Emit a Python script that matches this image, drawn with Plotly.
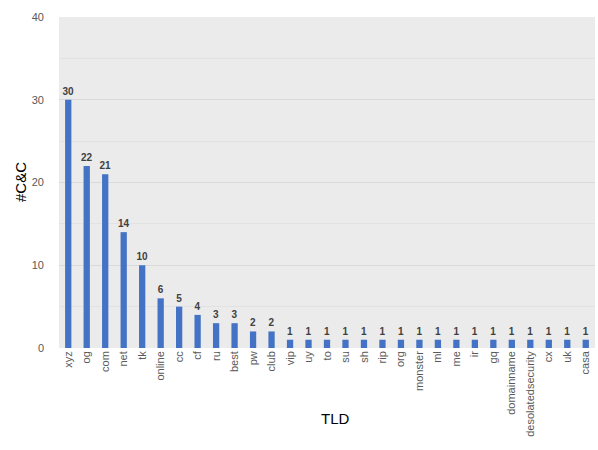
import plotly.graph_objects as go

tlds = ["xyz", "og", "com", "net", "tk", "online", "cc", "cf", "ru", "best", "pw", "club",
        "vip", "uy", "to", "su", "sh", "rip", "org", "monster", "ml", "me", "ir", "gq",
        "domainname", "desolatedsecurity", "cx", "uk", "casa"]
counts = [30, 22, 21, 14, 10, 6, 5, 4, 3, 3, 2, 2,
          1, 1, 1, 1, 1, 1, 1, 1, 1, 1, 1, 1, 1, 1, 1, 1, 1]

fig = go.Figure(go.Bar(
    x=tlds, y=counts,
    marker=dict(color="#4472c4", line=dict(width=0)),
    text=[str(c) for c in counts], textposition="outside",
    constraintext="none",
    textfont=dict(family="Liberation Sans, Arial", size=10, color="#404040"),
    texttemplate="<b>%{text}</b>", cliponaxis=False,
))

plot_w = 598 - 59 - 3
plot_h = 450 - 17 - 102

fig.update_layout(
    width=598, height=450,
    margin=dict(l=59, r=3, t=17, b=102),
    paper_bgcolor="white", plot_bgcolor="#ebebeb",
    bargap=0.66, showlegend=False,
    font=dict(family="Liberation Sans, Arial", color="#595959"),
    xaxis=dict(tickangle=-90, tickfont=dict(size=11, color="#595959"),
               showgrid=False, automargin=False, ticks="", showline=False,
               ticklen=0),
    yaxis=dict(range=[0, 40], dtick=10, tickfont=dict(size=11, color="#595959"),
               gridcolor="#d9d9d9", gridwidth=1, zeroline=False, automargin=False,
               minor=dict(dtick=5, showgrid=True, gridcolor="#e2e2e2", gridwidth=1),
               ticklabelstandoff=14),
    annotations=[
        dict(text="TLD", x=(335 - 59) / plot_w, xref="paper",
             y=(348 - 418) / plot_h, yref="paper", showarrow=False,
             xanchor="center", yanchor="middle",
             font=dict(size=15, color="black")),
        dict(text="#C&C", x=(20 - 59) / plot_w, xref="paper",
             y=(348 - 182) / plot_h, yref="paper", textangle=-90,
             xanchor="center", yanchor="middle",
             showarrow=False, font=dict(size=15, color="black")),
    ],
)

fig.write_html("out.html")
